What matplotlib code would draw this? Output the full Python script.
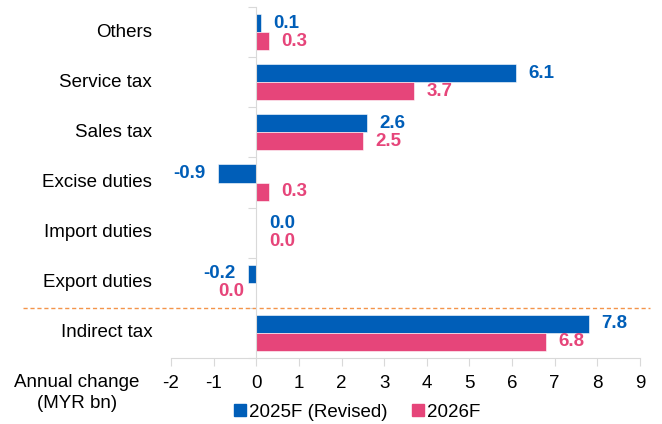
import matplotlib.pyplot as plt
import numpy as np
from matplotlib.lines import Line2D
import matplotlib.transforms as mtransforms

plt.rcParams['font.family'] = ['Liberation Sans', 'DejaVu Sans']

categorias = ['Others', 'Service tax', 'Sales tax', 'Excise duties',
              'Import duties', 'Export duties', 'Indirect tax']
serie_2025 = [0.1, 6.1, 2.6, -0.9, 0.0, -0.2, 7.8]
serie_2026 = [0.3, 3.7, 2.5, 0.3, 0.0, -0.0, 6.8]   # -0.0: label sits on the left
nombres = ['2025F (Revised)', '2026F']
colores = ['#005EB8', '#E6457A']
xticks = list(range(-2, 10))

fig = plt.figure(figsize=(6.62, 4.24), dpi=100)
ax = fig.add_axes([171/662, 1 - 358/424, 469/662, 351/424])

y = np.arange(len(categorias))
alto = 0.36
fs = 13.5

for serie, off, col in [(serie_2025, -alto/2, colores[0]), (serie_2026, alto/2, colores[1])]:
    ax.barh(y + off, serie, height=alto, color=col, edgecolor='white', linewidth=0.4)
    for yi, v in zip(y, serie):
        neg = np.signbit(v)
        ax.annotate(f'{abs(v):.1f}' if v == 0 else f'{v:.1f}', (v, yi + off),
                    xytext=(-9 if neg else 9, 0), textcoords='offset points',
                    ha='right' if neg else 'left', va='center',
                    fontsize=fs, fontweight='bold', color=col)

ax.set_xlim(-2, 9)
ax.set_ylim(len(categorias) - 0.5, -0.5)

for s in ['top', 'right']:
    ax.spines[s].set_visible(False)
ax.spines['left'].set_position(('data', 0))
ax.spines['left'].set_color('#D9D9D9')
ax.spines['bottom'].set_color('#D9D9D9')

ax.set_yticks(np.arange(-0.5, len(categorias)))
ax.set_yticklabels([])
ax.tick_params(axis='y', length=6, color='#D9D9D9', direction='out')
ax.set_xticks(xticks)
ax.set_xticklabels([str(t) for t in xticks], fontsize=fs)
ax.tick_params(axis='x', length=6, color='#D9D9D9', pad=6)

trans = mtransforms.blended_transform_factory(ax.transAxes, ax.transData)
for yi, c in zip(y, categorias):
    ax.text(-0.04, yi, c, transform=trans, ha='right', va='center', fontsize=fs)

# separator above Indirect tax
ax.plot([-0.316, 1.021], [5.5, 5.5], transform=trans, color='#F4944A',
        linestyle=(0, (3, 2)), linewidth=1, clip_on=False)

fig.text(77/662, 1 - 393/424, 'Annual change\n(MYR bn)', ha='center', va='center',
         fontsize=fs, linespacing=1.25)

handles = [Line2D([], [], marker='s', linestyle='none', markersize=8, color=c) for c in colores]
fig.legend(handles, nombres, loc='center', bbox_to_anchor=(357/662, 1 - 412/424),
           ncol=2, frameon=False, fontsize=fs, handlelength=0.7, handletextpad=0.1,
           columnspacing=1.3, borderpad=0, borderaxespad=0)

fig.savefig('out.png', dpi=100)
plt.close()
